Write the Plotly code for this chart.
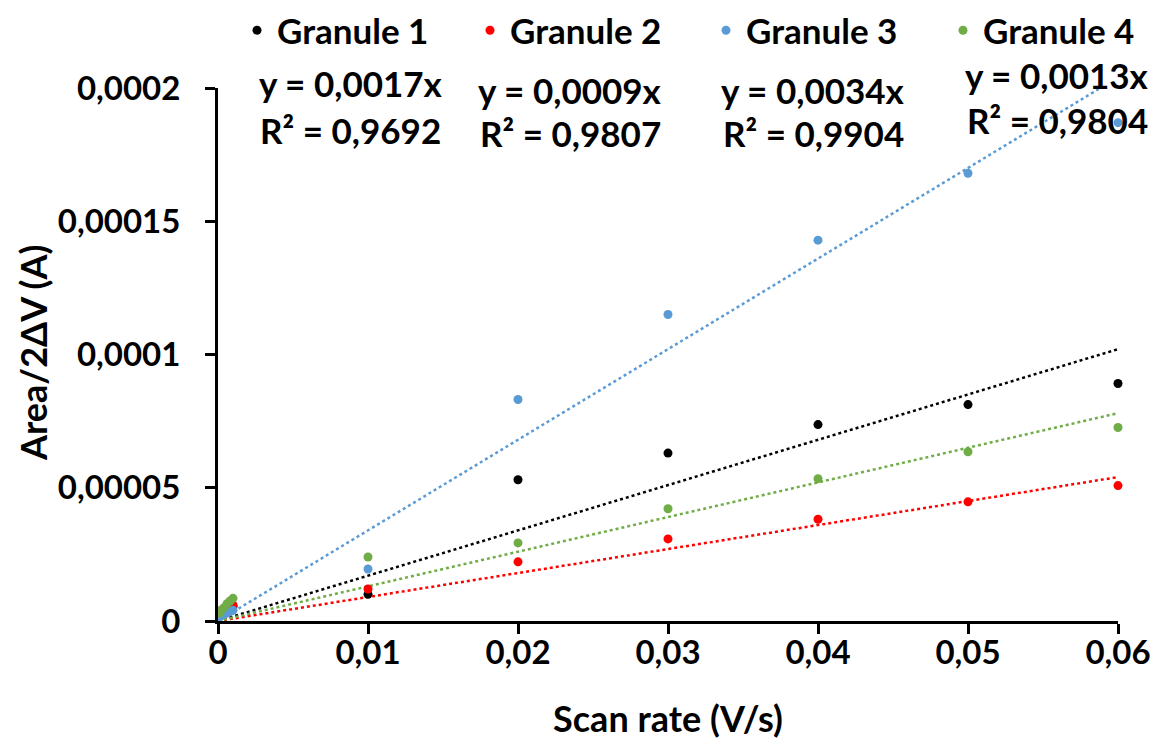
import plotly.graph_objects as go

# ---- data ----
x_small = [0.0001, 0.0002, 0.0004, 0.0006, 0.0008, 0.001]
x_main = [0.01, 0.02, 0.03, 0.04, 0.05, 0.06]
scan_rate = x_small + x_main

g1 = [2.0e-6, 2.5e-6, 3.0e-6, 3.5e-6, 4.5e-6, 5.5e-6,
      1.0e-5, 5.3e-5, 6.3e-5, 7.37e-5, 8.12e-5, 8.91e-5]
g2 = [3.5e-6, 4.0e-6, 4.5e-6, 5.0e-6, 5.5e-6, 6.0e-6,
      1.2e-5, 2.22e-5, 3.08e-5, 3.82e-5, 4.47e-5, 5.08e-5]
g3 = [1.5e-6, 2.0e-6, 2.5e-6, 3.0e-6, 3.5e-6, 4.0e-6,
      1.95e-5, 8.31e-5, 1.15e-4, 1.429e-4, 1.68e-4, 1.87e-4]
g4 = [3.0e-6, 4.0e-6, 5.0e-6, 6.5e-6, 7.5e-6, 8.5e-6,
      2.4e-5, 2.93e-5, 4.21e-5, 5.34e-5, 6.35e-5, 7.26e-5]

names = ["Granule 1", "Granule 2", "Granule 3", "Granule 4"]
series = [g1, g2, g3, g4]
colors = ["#000000", "#FF0000", "#5B9BD5", "#70AD47"]
slopes = [0.0017, 0.0009, 0.0034, 0.0013]
eq_text = ["y = 0,0017x", "y = 0,0009x", "y = 0,0034x", "y = 0,0013x"]
r2_text = ["R² = 0,9692", "R² = 0,9807", "R² = 0,9904", "R² = 0,9804"]

x_ticks = [0, 0.01, 0.02, 0.03, 0.04, 0.05, 0.06]
x_ticktext = ["0", "0,01", "0,02", "0,03", "0,04", "0,05", "0,06"]
y_ticks = [0, 0.00005, 0.0001, 0.00015, 0.0002]
y_ticktext = ["0", "0,00005", "0,0001", "0,00015", "0,0002"]

x_title = "Scan rate (V/s)"
y_title = "Area/2ΔV (A)"

FONT = "Lato"
TXT = 35
TICK = 33

W, H = 1154, 740
L, R, T, B = 218, 36, 88, 119
pw, ph = W - L - R, H - T - B

def px2paper(px, py):
    return (px - L) / pw, (H - B - py) / ph

def bold(size):
    return dict(family=FONT, size=size, color="black", weight="bold")

fig = go.Figure()

# trendlines (linear, through origin)
fit_x = [0, 0.06]
for name, s, c in zip(names, slopes, colors):
    fig.add_trace(go.Scatter(
        x=fit_x, y=[s * v for v in fit_x], mode="lines",
        line=dict(color=c, width=2.5, dash="dot"),
        showlegend=False, hoverinfo="skip"))

legend_ids = ["legend", "legend2", "legend3", "legend4"]
for name, ys, c, lid in zip(names, series, colors, legend_ids):
    fig.add_trace(go.Scatter(
        x=scan_rate, y=ys, mode="markers", name=name, legend=lid,
        marker=dict(color=c, size=9), cliponaxis=False))

eq_pos = [(351, 83), (570, 90), (813, 90), (1057, 75)]
r2_pos = [(350, 130), (570, 133), (813, 133), (1057, 120)]
for t, (px, py) in zip(eq_text + r2_text, eq_pos + r2_pos):
    xx, yy = px2paper(px, py)
    fig.add_annotation(x=xx, y=yy, xref="paper", yref="paper", text=t,
                       showarrow=False, xanchor="center", yanchor="middle",
                       font=bold(TXT))

# y-axis title as rotated annotation
tx, ty = px2paper(33, 353)
fig.add_annotation(x=tx, y=ty, xref="paper", yref="paper", text=y_title,
                   textangle=-90, showarrow=False, xanchor="center",
                   yanchor="middle", font=bold(36))

legend_dots = [256, 489, 725, 962]
legends = {}
for lid, dx in zip(legend_ids, legend_dots):
    lx, ly = px2paper(dx - 19, 1)
    legends[lid] = dict(orientation="h", x=lx, y=ly, xanchor="left", yanchor="top",
                        font=bold(35), bgcolor="rgba(0,0,0,0)", itemsizing="trace")

fig.update_layout(
    width=W, height=H,
    margin=dict(l=L, r=R, t=T, b=B, autoexpand=False),
    paper_bgcolor="white", plot_bgcolor="white",
    font=bold(TXT),
    showlegend=True,
    **legends,
    xaxis=dict(range=[0, 0.06], tickvals=x_ticks, ticktext=x_ticktext,
               showgrid=False, zeroline=False, showline=True, linecolor="black",
               linewidth=3, ticks="outside", ticklen=10, tickwidth=3, tickcolor="black",
               ticklabelstandoff=-10,
               tickfont=bold(TICK),
               title=dict(text=x_title, standoff=38, font=bold(36))),
    yaxis=dict(range=[0, 0.0002], tickvals=y_ticks, ticktext=y_ticktext,
               showgrid=False, zeroline=False, showline=True, linecolor="black",
               linewidth=3, ticks="outside", ticklen=10, tickwidth=3, tickcolor="black",
               ticklabelstandoff=18,
               tickfont=bold(TICK)),
)

fig.write_html("out.html")
